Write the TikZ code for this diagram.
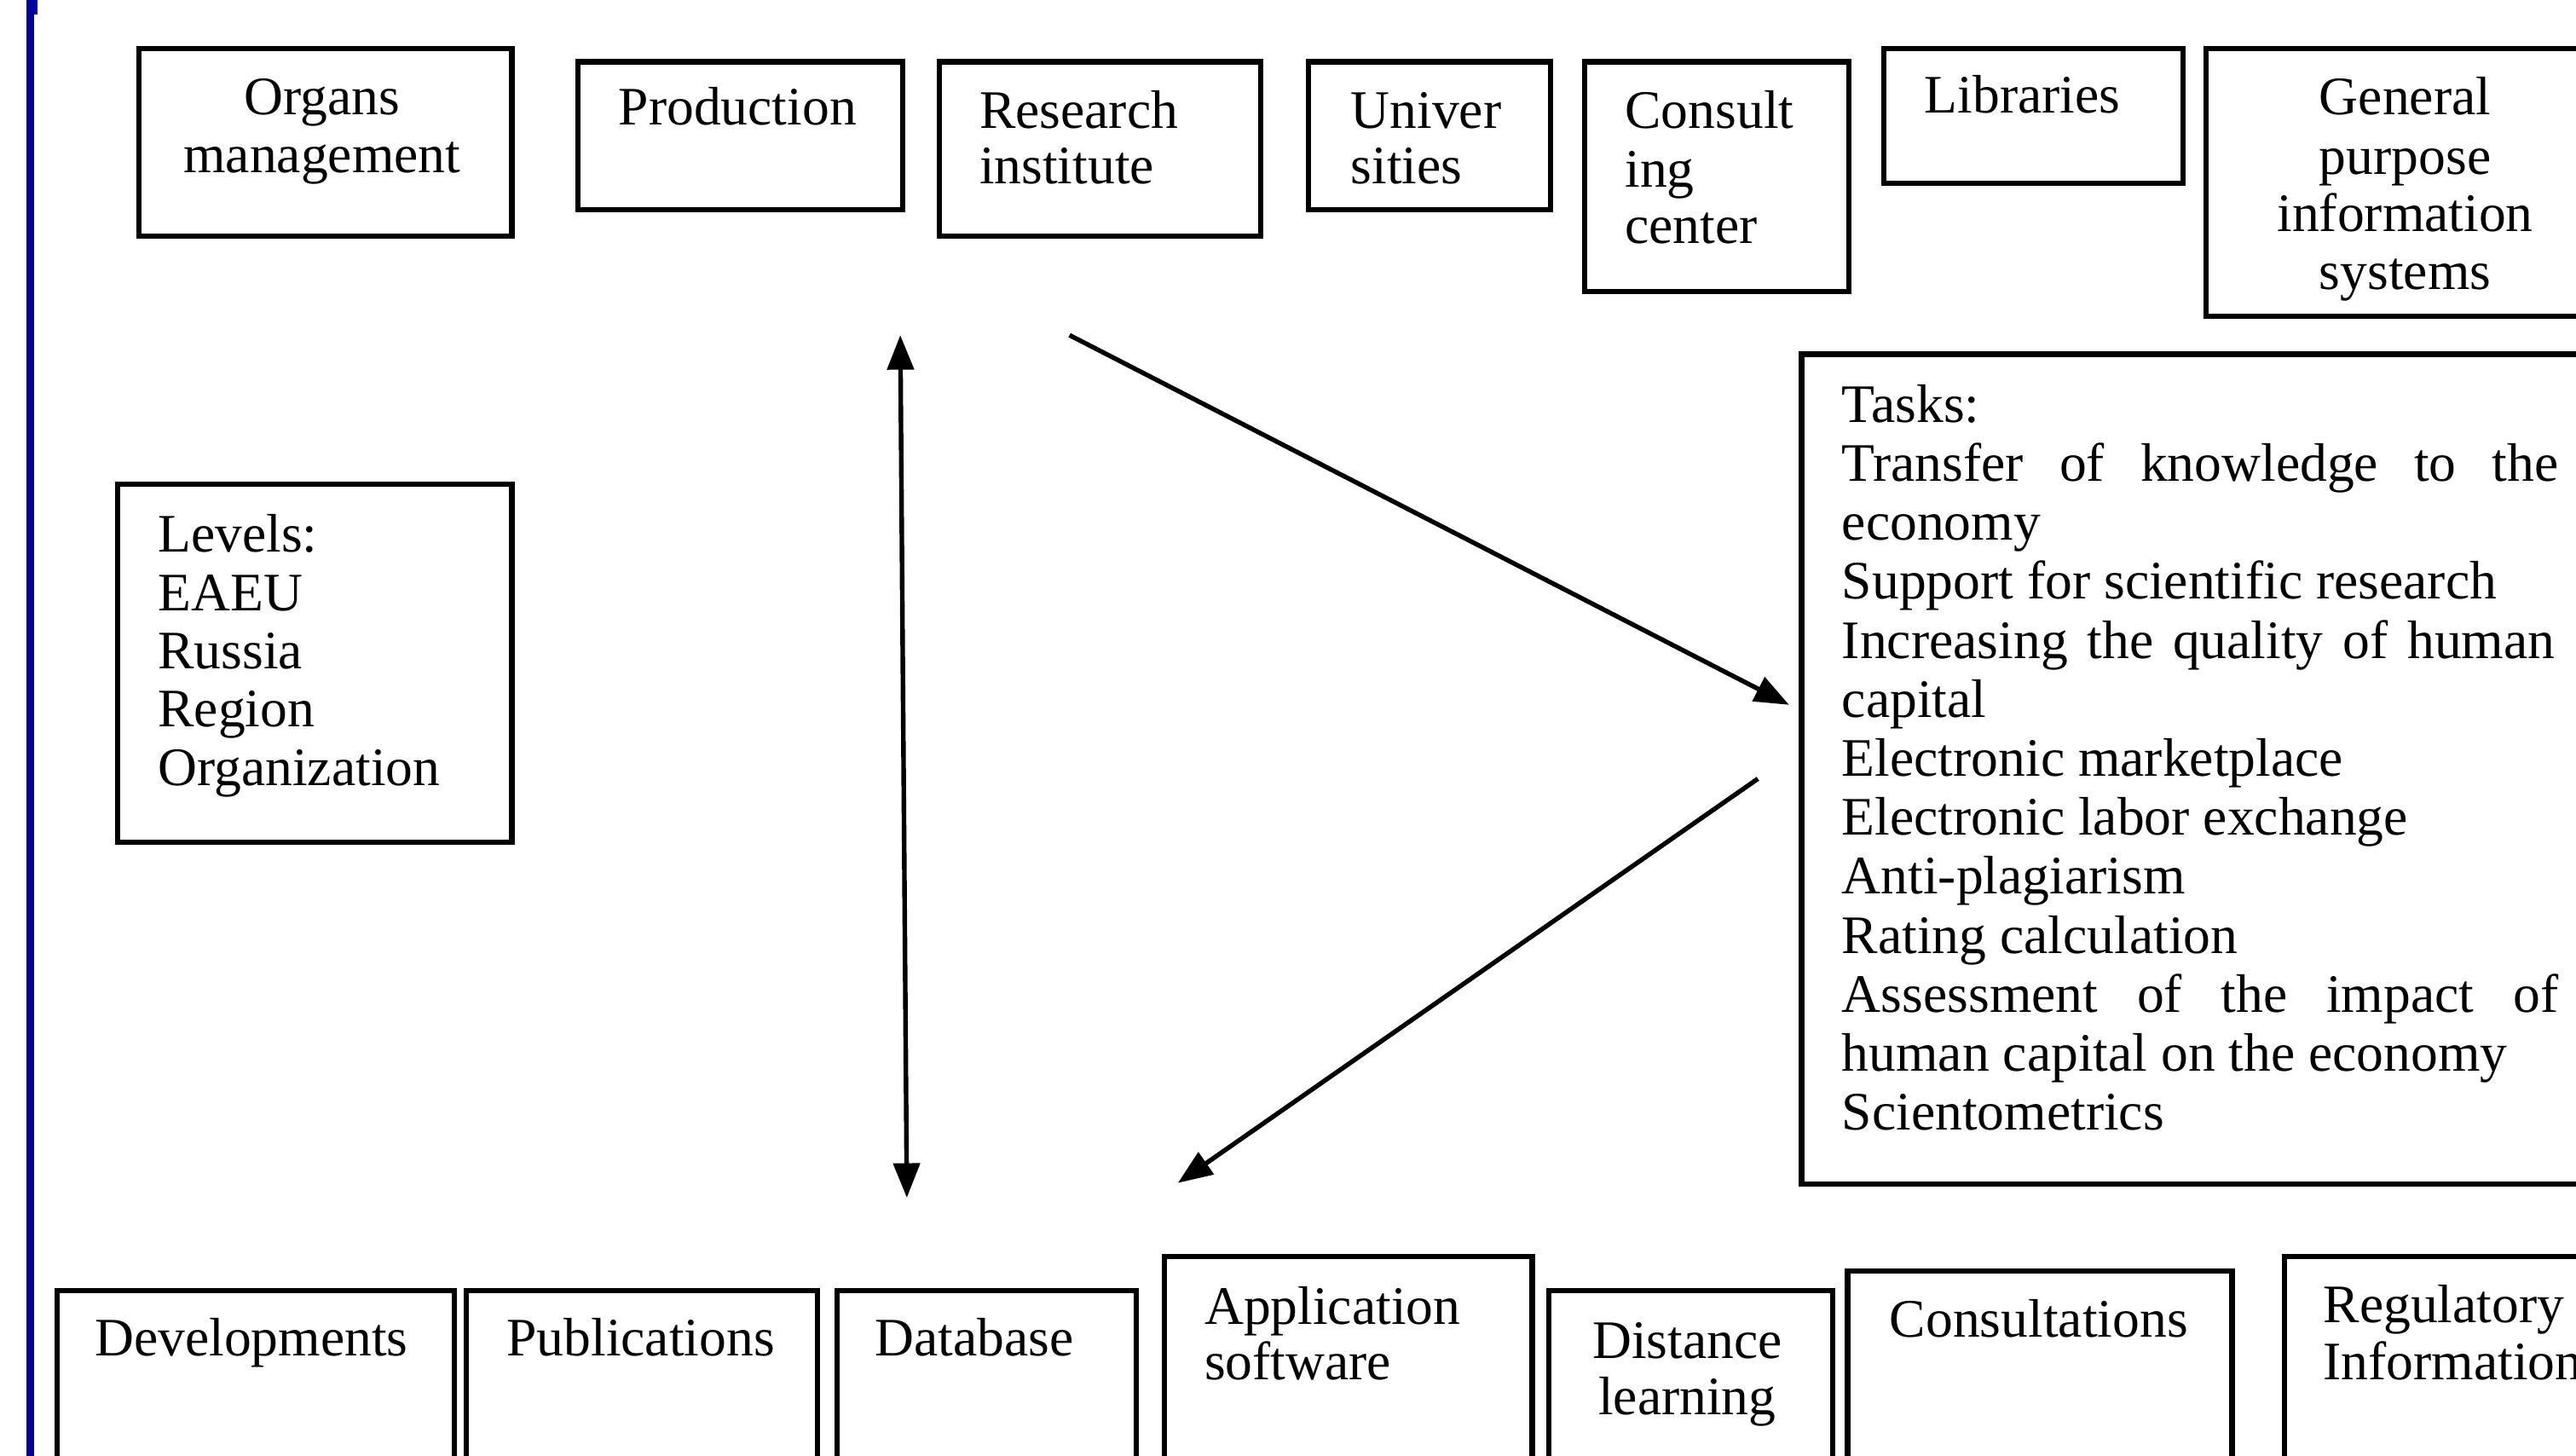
\documentclass[tikz,border=0pt]{standalone}
\usepackage{fontspec}
\setmainfont{Liberation Serif}
\usetikzlibrary{arrows.meta}
\definecolor{barblue}{RGB}{0,0,165}
\begin{document}
\begin{tikzpicture}[x=1pt,y=-1pt,
  box/.style={draw=black, line width=3.2pt, anchor=north west, inner sep=0pt},
  txt/.style={inner sep=0pt, font=\fontsize{33}{36}\selectfont},
  tl/.style={txt, anchor=base west},
  tc/.style={txt, anchor=base},
  arr/.style={line width=2.8pt, -{Triangle[length=21pt,width=16pt]}},
  darr/.style={line width=2.8pt, {Triangle[length=21pt,width=16pt]}-{Triangle[length=21pt,width=16pt]}}]
\clip (0,0) rectangle (1568,886);
\fill[white] (0,0) rectangle (1568,886);
% left bar
\fill[barblue] (16,0) rectangle (20.5,886);
\fill[barblue] (16,0) rectangle (23,9);
% top row boxes
\node[box, minimum width=227pt, minimum height=114pt] (org) at (83,28) {};
\node[tc] (orgt1) at (196,70) {Organs};
\node[tc] (orgt2) at (196,105) {management};
\node[box, minimum width=198pt, minimum height=90pt] (prod) at (350,36) {};
\node[tc] (prodt) at (449,76) {Production};
\node[box, minimum width=196pt, minimum height=106pt] (res) at (570,36) {};
\node[tl] (rest1) at (596,78) {Research};
\node[tl] (rest2) at (596,112) {institute};
\node[box, minimum width=147pt, minimum height=90pt] (uni) at (795,36) {};
\node[tl] (unit1) at (822,78) {Univer};
\node[tl] (unit2) at (822,112) {sities};
\node[box, minimum width=161pt, minimum height=140pt] (cons) at (963,36) {};
\node[tl] (const1) at (989,78) {Consult};
\node[tl] (const2) at (989,114) {ing};
\node[tl] (const3) at (989,148) {center};
\node[box, minimum width=182pt, minimum height=82pt] (lib) at (1145,28) {};
\node[tc] (libt) at (1231,69) {Libraries};
\node[box, minimum width=260pt, minimum height=163pt] (gen) at (1341,28) {};
\node[tc] (gent1) at (1464,70) {General};
\node[tc] (gent2) at (1464,106) {purpose};
\node[tc] (gent3) at (1464,141) {information};
\node[tc] (gent4) at (1464,176) {systems};
% levels
\node[box, minimum width=240pt, minimum height=218pt] (lev) at (70,293) {};
\foreach \l [count=\i from 0] in {Levels:,EAEU,Russia,Region,Organization}
  \node[tl] (levt\i) at (96,336+\i*35.5) {\l};
% tasks
\node[box, minimum width=520pt, minimum height=505pt] (tasks) at (1095,214) {};
\foreach \l [count=\i from 0] in {Tasks:,
  {\makebox[436pt][s]{Transfer of knowledge to the}},
  economy,
  Support for scientific research,
  {\makebox[434pt][s]{Increasing the quality of human}},
  capital,
  Electronic marketplace,
  Electronic labor exchange,
  Anti-plagiarism,
  Rating calculation,
  {\makebox[436pt][s]{Assessment of the impact of}},
  human capital on the economy,
  Scientometrics}
  \node[tl] (taskt\i) at (1121,257+\i*35.9) {\l};
% bottom row
\node[box, minimum width=242pt, minimum height=150pt] (dev) at (33,784) {};
\node[tc] (devt) at (153,825) {Developments};
\node[box, minimum width=214pt, minimum height=150pt] (pub) at (282,784) {};
\node[tc] (pubt) at (390,825) {Publications};
\node[box, minimum width=182pt, minimum height=150pt] (db) at (508,784) {};
\node[tc] (dbt) at (593,825) {Database};
\node[box, minimum width=224pt, minimum height=170pt] (app) at (707,763) {};
\node[tl] (appt1) at (733,806) {Application};
\node[tl] (appt2) at (733,840) {software};
\node[box, minimum width=173pt, minimum height=150pt] (dist) at (941,784) {};
\node[tc] (distt1) at (1027,827) {Distance};
\node[tc] (distt2) at (1027,861) {learning};
\node[box, minimum width=234pt, minimum height=160pt] (consu) at (1123,772) {};
\node[tc] (consut) at (1241,814) {Consultations};
\node[box, minimum width=220pt, minimum height=170pt] (reg) at (1389,763) {};
\node[tl] (regt1) at (1414,805) {Regulatory};
\node[tl] (regt2) at (1414,840) {Information};
% arrows
\coordinate (vtop) at (548,204);
\coordinate (vbot) at (552,729);
\coordinate (a1s) at (651,204);
\coordinate (a1e) at (1089,429);
\coordinate (a2s) at (1070,474);
\coordinate (a2e) at (717,720);
\draw[darr] (vtop) -- (vbot);
\draw[arr] (a1s) -- (a1e);
\draw[arr] (a2s) -- (a2e);
\end{tikzpicture}
\end{document}
